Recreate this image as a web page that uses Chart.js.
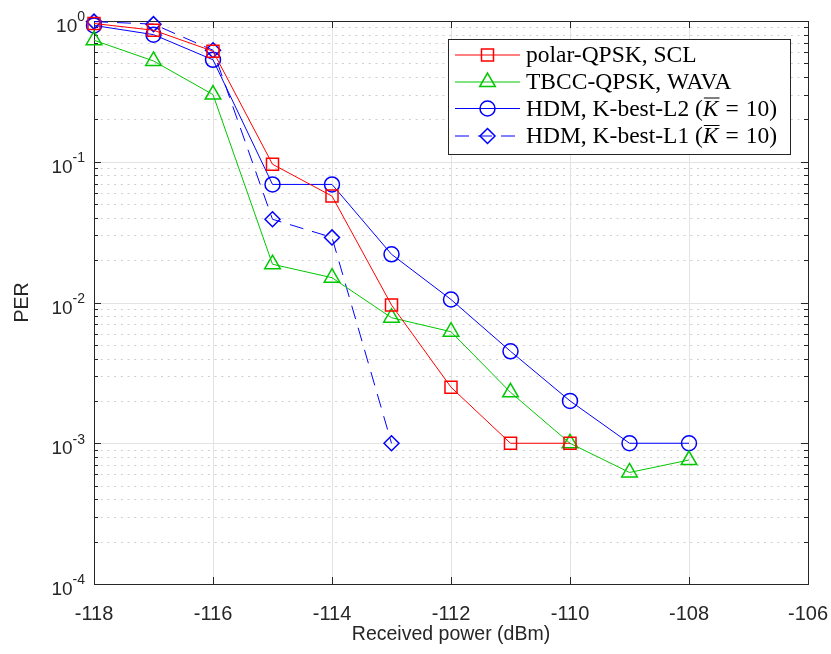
<!DOCTYPE html>
<html>
<head>
<meta charset="utf-8">
<script src="https://cdn.jsdelivr.net/npm/chart.js@4.4.1/dist/chart.umd.min.js"></script>
<style>
  html, body { margin: 0; padding: 0; background: #fff; }
  #wrap { width: 831px; height: 654px; }
</style>
</head>
<body>
<div id="wrap"><canvas id="perChart" width="831" height="654"></canvas></div>
<script>
// received power in dBm, one entry per measured point
const powerDbm = [-118, -117, -116, -115, -114, -113, -112, -111, -110, -109, -108];

// packet error rate
const polarScl = [0.96, 0.86, 0.61, 0.096, 0.057, 0.0096, 0.0025, 0.001, 0.001];
const tbccWava = [0.73, 0.52, 0.30, 0.0187, 0.015, 0.0078, 0.0062, 0.0023, 0.001, 0.00062, 0.00076];
const hdmL2 = [0.93, 0.80, 0.53, 0.069, 0.069, 0.022, 0.0105, 0.0045, 0.002, 0.001, 0.001];
const hdmL1 = [0.99, 0.95, 0.62, 0.039, 0.029, 0.001];

const seriesNames = [
  'polar-QPSK, SCL',
  'TBCC-QPSK, WAVA',
  'HDM, K-best-L2 (K\u0305 = 10)',
  'HDM, K-best-L1 (K\u0305 = 10)'
];

const xTicks = [-118, -116, -114, -112, -110, -108, -106];
const yDecades = [-4, -3, -2, -1, 0];

const axisColor = '#262626';
const sansFont = '"Liberation Sans", Arial, sans-serif';

function pairs(ys) {
  return ys.map((v, i) => ({ x: powerDbm[i], y: v }));
}

function strokeLine(ctx, x1, y1, x2, y2) {
  ctx.beginPath();
  ctx.moveTo(x1, y1);
  ctx.lineTo(x2, y2);
  ctx.stroke();
}

// marker shapes for the legend, same geometry chart.js uses
function drawMarker(ctx, style, x, y, r) {
  ctx.beginPath();
  if (style === 'rect') {
    const s = r * Math.SQRT1_2;
    ctx.rect(x - s, y - s, 2 * s, 2 * s);
  } else if (style === 'triangle') {
    const dx = r * Math.sin(Math.PI * 2 / 3);
    const dy = -r * Math.cos(Math.PI * 2 / 3);
    ctx.moveTo(x, y - r);
    ctx.lineTo(x + dx, y + dy);
    ctx.lineTo(x - dx, y + dy);
    ctx.closePath();
  } else if (style === 'circle') {
    ctx.arc(x, y, r, 0, Math.PI * 2);
  } else if (style === 'rectRot') {
    ctx.moveTo(x, y - r);
    ctx.lineTo(x + r, y);
    ctx.lineTo(x, y + r);
    ctx.lineTo(x - r, y);
    ctx.closePath();
  }
  ctx.stroke();
}

const matlabAxes = {
  id: 'matlabAxes',
  beforeDatasetsDraw(chart) {
    const { ctx, chartArea: a, scales: { x, y } } = chart;
    ctx.save();
    ctx.lineWidth = 1;
    // minor dotted grid
    ctx.strokeStyle = '#cfcfcf';
    ctx.setLineDash([2, 4.7]);
    for (let k = -4; k < 0; k++) {
      for (let m = 2; m <= 9; m++) {
        const py = Math.round(y.getPixelForValue(m * Math.pow(10, k))) + 0.5;
        strokeLine(ctx, a.left, py, a.right, py);
      }
    }
    ctx.setLineDash([]);
    // major grid
    ctx.strokeStyle = '#e3e3e3';
    yDecades.forEach(e => {
      const py = Math.round(y.getPixelForValue(Math.pow(10, e))) + 0.5;
      if (e > -4 && e < 0) strokeLine(ctx, a.left, py, a.right, py);
    });
    xTicks.forEach(v => {
      const px = Math.round(x.getPixelForValue(v)) + 0.5;
      if (v > -118 && v < -106) strokeLine(ctx, px, a.top, px, a.bottom);
    });
    // box
    ctx.strokeStyle = axisColor;
    ctx.strokeRect(Math.round(a.left) + 0.5, Math.round(a.top) + 0.5,
      Math.round(a.right - a.left), Math.round(a.bottom - a.top));
    // ticks, inward on all sides
    xTicks.forEach(v => {
      const px = Math.round(x.getPixelForValue(v)) + 0.5;
      strokeLine(ctx, px, a.bottom, px, a.bottom - 7);
      strokeLine(ctx, px, a.top, px, a.top + 7);
    });
    for (let k = -4; k <= 0; k++) {
      for (let m = 1; m <= 9; m++) {
        if (k === 0 && m > 1) break;
        const py = Math.round(y.getPixelForValue(m * Math.pow(10, k))) + 0.5;
        const len = m === 1 ? 7 : 4;
        strokeLine(ctx, a.left, py, a.left + len, py);
        strokeLine(ctx, a.right, py, a.right - len, py);
      }
    }
    // decade labels 10^e with a raised exponent
    ctx.fillStyle = axisColor;
    ctx.textBaseline = 'middle';
    ctx.textAlign = 'left';
    yDecades.forEach(e => {
      const py = y.getPixelForValue(Math.pow(10, e));
      const expText = String(e);
      ctx.font = '14px ' + sansFont;
      const expW = ctx.measureText(expText).width;
      ctx.font = '19px ' + sansFont;
      const baseW = ctx.measureText('10').width;
      const right = a.left - 9;
      ctx.fillText('10', right - expW - baseW, py + 6);
      ctx.font = '14px ' + sansFont;
      ctx.fillText(expText, right - expW, py - 3.5);
    });
    ctx.restore();
  },
  afterDraw(chart) {
    // legend box, top right
    const ctx = chart.ctx;
    const box = { left: 448, top: 39, right: 790, bottom: 154 };
    ctx.save();
    ctx.fillStyle = '#fff';
    ctx.fillRect(box.left, box.top, box.right - box.left, box.bottom - box.top);
    ctx.strokeStyle = axisColor;
    ctx.lineWidth = 1;
    ctx.strokeRect(box.left + 0.5, box.top + 0.5, box.right - box.left, box.bottom - box.top);
    const rowY = [55, 82, 108.5, 136];
    const font = '23.5px "Liberation Serif", "Times New Roman", serif';
    chart.data.datasets.forEach((ds, i) => {
      const cy = rowY[i];
      ctx.strokeStyle = ds.borderColor;
      ctx.lineWidth = 1;
      ctx.setLineDash(ds.borderDash || []);
      strokeLine(ctx, 455, cy, 520, cy);
      ctx.setLineDash([]);
      ctx.lineWidth = ds.pointBorderWidth;
      drawMarker(ctx, ds.pointStyle, 487.5, cy, ds.pointRadius);
      // label text, the overlined italic K handled by hand
      ctx.fillStyle = '#000';
      ctx.textBaseline = 'middle';
      const parts = ds.label.split('K\u0305');
      let tx = 526;
      ctx.font = font;
      ctx.fillText(parts[0], tx, cy + 1);
      if (parts.length > 1) {
        tx += ctx.measureText(parts[0]).width;
        ctx.font = 'italic ' + font;
        ctx.fillText('K', tx, cy + 1);
        const kw = ctx.measureText('K').width;
        ctx.strokeStyle = '#000';
        ctx.lineWidth = 1;
        strokeLine(ctx, tx + 1, cy - 10.5, tx + kw + 1, cy - 10.5);
        tx += kw + 7;
        ctx.font = font;
        const rest = parts[1].trim().split(' ');
        // math spacing around '='
        ctx.fillText(rest[0], tx, cy + 1);
        tx += ctx.measureText(rest[0]).width + 7;
        ctx.fillText(rest[1], tx, cy + 1);
      }
    });
    ctx.restore();
  }
};

const lineDefaults = {
  borderWidth: 1,
  pointBorderWidth: 1.5,
  pointBackgroundColor: 'rgba(0,0,0,0)',
  pointHoverRadius: 0,
  fill: false,
  tension: 0,
  clip: false
};

new Chart(document.getElementById('perChart'), {
  type: 'line',
  data: {
    datasets: [
      Object.assign({}, lineDefaults, {
        label: seriesNames[0], data: pairs(polarScl),
        borderColor: '#ff0000', pointBorderColor: '#ff0000',
        pointStyle: 'rect', pointRadius: 8.5
      }),
      Object.assign({}, lineDefaults, {
        label: seriesNames[1], data: pairs(tbccWava),
        borderColor: '#00c800', pointBorderColor: '#00c800',
        pointStyle: 'triangle', pointRadius: 9
      }),
      Object.assign({}, lineDefaults, {
        label: seriesNames[2], data: pairs(hdmL2),
        borderColor: '#0000ff', pointBorderColor: '#0000ff',
        pointStyle: 'circle', pointRadius: 7.5
      }),
      Object.assign({}, lineDefaults, {
        label: seriesNames[3], data: pairs(hdmL1),
        borderColor: '#0000ff', pointBorderColor: '#0000ff',
        borderDash: [14, 9],
        pointStyle: 'rectRot', pointRadius: 7.5
      })
    ]
  },
  options: {
    responsive: false,
    animation: false,
    devicePixelRatio: 1,
    layout: { padding: { left: 0, top: 21, right: 23, bottom: 0 } },
    plugins: {
      legend: { display: false },
      tooltip: { enabled: false }
    },
    scales: {
      x: {
        type: 'linear',
        min: -118,
        max: -106,
        afterFit: s => { s.height = 70; s.paddingLeft = 0; s.paddingRight = 0; },
        afterBuildTicks: s => { s.ticks = xTicks.map(v => ({ value: v })); },
        grid: { display: false },
        border: { display: false },
        ticks: {
          color: axisColor,
          font: { family: sansFont, size: 20 },
          padding: 10,
          maxRotation: 0,
          autoSkip: false
        },
        title: {
          display: true,
          text: 'Received power (dBm)',
          color: axisColor,
          font: { family: sansFont, size: 19.5 },
          padding: { top: 0, bottom: 8 }
        }
      },
      y: {
        type: 'logarithmic',
        min: 1e-4,
        max: 1,
        afterFit: s => { s.width = 94; },
        afterBuildTicks: s => { s.ticks = yDecades.map(e => ({ value: Math.pow(10, e) })); },
        grid: { display: false },
        border: { display: false },
        ticks: { display: false },
        title: {
          display: true,
          text: 'PER',
          color: axisColor,
          font: { family: sansFont, size: 19.5 },
          padding: { top: 11, bottom: 0 }
        }
      }
    }
  },
  plugins: [matlabAxes]
});
</script>
</body>
</html>
